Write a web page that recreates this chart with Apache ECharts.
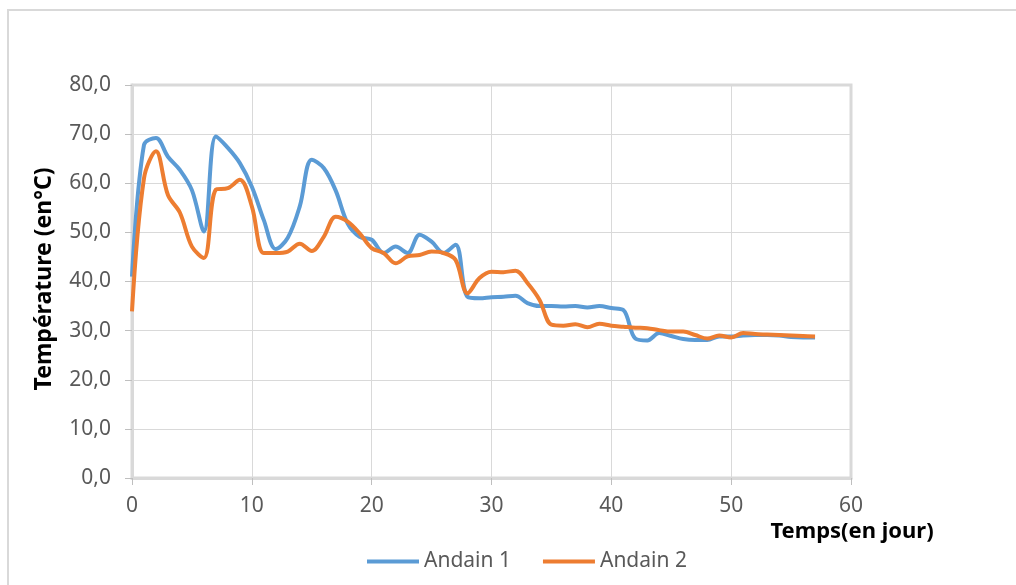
<!DOCTYPE html>
<html><head><meta charset="utf-8">
<script src="https://cdn.jsdelivr.net/npm/echarts@6/dist/echarts.min.js"></script>
<style>html,body{margin:0;padding:0;background:#fff}#c{width:1016px;height:585px}</style>
</head><body><div id="c"></div>
<script>
const days = [0,1,2,3,4,5,6,7,8,9,10,11,12,13,14,15,16,17,18,19,20,21,22,23,24,25,26,27,28,29,30,31,32,33,34,35,36,37,38,39,40,41,42,43,44,45,46,47,48,49,50,51,52,53,54,55,56,57];
const andain1 = [41.0,67.8,69.2,65.4,62.7,58.6,50.2,69.5,67.2,64.1,59.3,52.5,46.6,48.9,55.3,64.8,63.1,58.5,51.8,49.1,48.5,45.8,47.1,45.8,49.5,48.1,45.8,47.5,36.9,36.6,36.8,36.9,37.1,35.6,35.0,35.0,34.9,35.0,34.7,35.0,34.6,34.2,28.4,28.0,29.5,28.9,28.3,28.1,28.1,28.8,28.8,29.0,29.1,29.1,29.0,28.7,28.6,28.6];
const andain2 = [33.9,61.0,66.5,57.6,54.0,47.1,44.8,58.7,59.0,60.7,55.3,45.8,45.8,46.1,47.7,46.2,49.1,53.2,52.2,49.8,46.8,45.8,43.7,45.1,45.4,46.1,45.8,44.4,37.6,40.7,42.0,41.9,42.2,39.7,36.3,31.2,31.0,31.3,30.7,31.4,31.0,30.8,30.6,30.5,30.1,29.8,29.8,29.1,28.4,29.0,28.6,29.5,29.3,29.2,29.1,29.0,28.9,28.8];
const seriesNames = ['Andain 1','Andain 2'];
const xTitle = 'Temps(en jour)';
const yTitle = 'Température (en°C)';

const font = '"Noto Sans", "Open Sans", sans-serif';
const chart = echarts.init(document.getElementById('c'));
const pair = (arr) => days.map((d,i) => [d, arr[i]]);
chart.setOption({
  animation: false,
  textStyle: {fontFamily: font},
  grid: {left: 132, right: 165, top: 85, bottom: 107, show: true, borderColor: '#d9d9d9', borderWidth: 3},
  legend: {
    left: 362, top: 546, itemWidth: 52, itemHeight: 4, itemGap: 32, icon: 'rect',
    textStyle: {fontSize: 21, color: '#595959', fontFamily: font},
    data: seriesNames
  },
  xAxis: {
    type: 'value', min: 0, max: 60, interval: 10,
    axisLine: {lineStyle: {color: '#d9d9d9', width: 3}},
    axisTick: {show: true, length: 7, lineStyle: {color: '#bfbfbf', width: 1}},
    splitLine: {lineStyle: {color: '#d9d9d9', width: 1}},
    axisLabel: {fontSize: 21, color: '#595959', margin: 18, fontFamily: font}
  },
  yAxis: {
    type: 'value', min: 0, max: 80, interval: 10,
    axisLine: {show: true, lineStyle: {color: '#d9d9d9', width: 3}},
    axisTick: {show: true, length: 7, lineStyle: {color: '#bfbfbf', width: 1}},
    splitLine: {lineStyle: {color: '#d9d9d9', width: 1}},
    axisLabel: {fontSize: 21, color: '#595959', margin: 21, fontFamily: font,
      formatter: v => v.toFixed(1).replace('.', ',')}
  },
  series: [
    {name: seriesNames[0], type: 'line', data: pair(andain1), smooth: 0.35, showSymbol: false,
      lineStyle: {color: '#5b9bd5', width: 4}, itemStyle: {color: '#5b9bd5'}},
    {name: seriesNames[1], type: 'line', data: pair(andain2), smooth: 0.35, showSymbol: false,
      lineStyle: {color: '#ed7d31', width: 4}, itemStyle: {color: '#ed7d31'}}
  ],
  graphic: [
    {type: 'rect', shape: {x: 8, y: 10, width: 1100, height: 700}, style: {fill: 'none', stroke: '#d9d9d9', lineWidth: 2}, silent: true},
    {type: 'text', x: 852, y: 532, style: {text: xTitle, font: 'bold 22px ' + font, fill: '#000', align: 'center', verticalAlign: 'middle'}},
    {type: 'text', x: 44, y: 279, rotation: Math.PI / 2, style: {text: yTitle, font: 'bold 23px ' + font, fill: '#000', align: 'center', verticalAlign: 'middle'}}
  ]
});
</script></body></html>
